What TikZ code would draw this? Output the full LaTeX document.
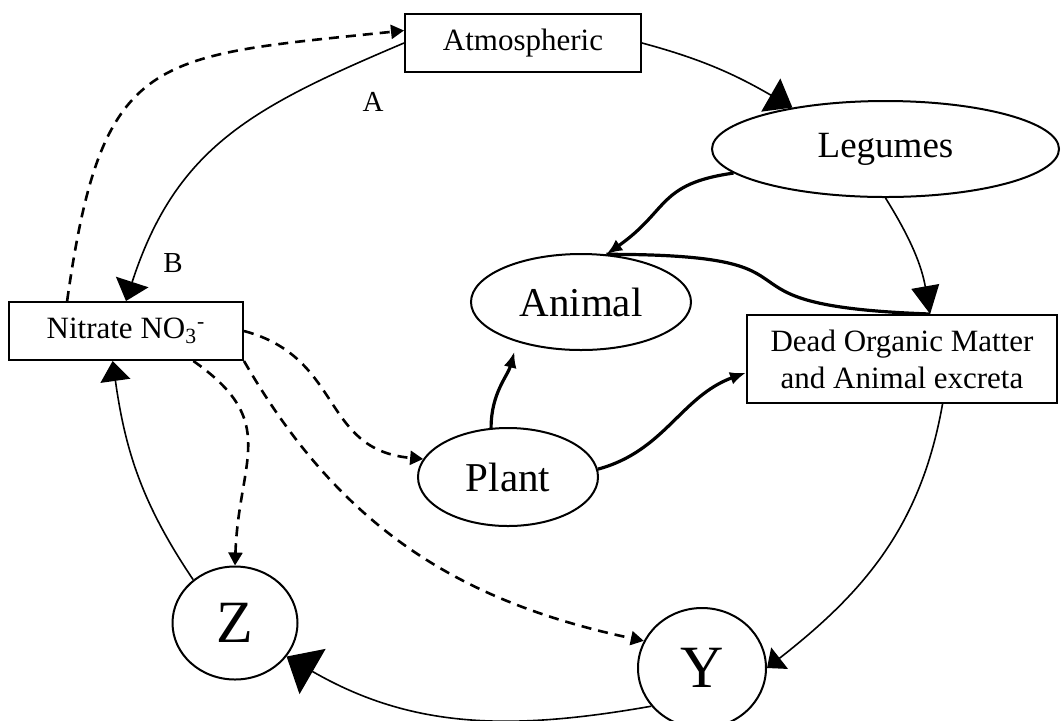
\documentclass[tikz,border=0pt]{standalone}
\usepackage{fontspec}
\setmainfont{Liberation Serif}
\usepackage{tikz}
\usetikzlibrary{arrows.meta,shapes.geometric}

\begin{document}
\begin{tikzpicture}[x=0.5pt,y=-0.5pt,
  every node/.style={font=\fontsize{15.5}{18.5}\selectfont, inner sep=0pt},
  box/.style={draw, rectangle, line width=1pt, align=center},
  oval/.style={draw, ellipse, line width=1pt},
  loopline/.style={line width=0.8pt},
  feed/.style={line width=1.6pt, -{Latex[length=8pt,width=6.5pt]}},
  leak/.style={line width=1.3pt, dash pattern=on 5pt off 3.5pt, -{Triangle[length=6.5pt,width=7pt]}}]
\useasboundingbox (0,0) rectangle (1061,720);
\node[box, minimum width=118pt, minimum height=29pt] (atm) at (523,43) {Atmospheric};
\node[oval, minimum width=173.5pt, minimum height=48pt, font=\fontsize{18.5}{22}\selectfont] (leg) at (885.5,149) {Legumes};
\node[oval, minimum width=110pt, minimum height=48pt, font=\fontsize{20.5}{24}\selectfont] (ani) at (581,302) {Animal};
\node[box, minimum width=117pt, minimum height=29pt] (nit) at (126,331) {Nitrate NO\textsubscript{3}\textsuperscript{-}};
\node[box, minimum width=155pt, minimum height=44pt] (dead) at (902,359) {Dead Organic Matter\\and Animal excreta};
\node[oval, minimum width=90pt, minimum height=49pt, font=\fontsize{20.5}{24}\selectfont] (pla) at (508,477) {Plant};
\node[oval, minimum width=62.5pt, minimum height=56.5pt, font=\fontsize{30}{36}\selectfont] (zz) at (235,623) {Z};
\node[oval, minimum width=64pt, minimum height=60pt, font=\fontsize{30}{36}\selectfont] (yy) at (702,668) {Y};
\node[font=\fontsize{14.5}{17}\selectfont] (lbA) at (373,102) {A};
\node[font=\fontsize{14.5}{17}\selectfont] (lbB) at (173,263) {B};

\draw[loopline, -{Triangle[length=10pt,width=17pt]}] (atm.west) to[out=203,in=72,looseness=1.1] (nit.north);
\draw[leak] (nit.153) to[out=82,in=186,looseness=1.5] (atm.174);
\draw[loopline, -{Triangle[length=12.5pt,width=19pt]}] (atm.east) to[out=-15,in=150] (leg.156);
\draw[loopline, -{Triangle[length=14pt,width=14pt]}] (leg.south) to[out=-58,in=100] (dead.58);
\draw[loopline, -{Triangle[length=8pt,width=13.5pt]}] (dead.-48) to[out=-100,in=38] (yy.east);
\draw[loopline, -{Triangle[length=15pt,width=26pt]}] (yy.217) to[out=190,in=-30] (zz.-33);
\draw[loopline, -{Triangle[length=10pt,width=15pt]}] (zz.134) to[out=124,in=-82] (nit.246);

\draw[leak] (nit.-24) to[out=-35,in=88,looseness=1.3] (zz.north);
\draw[leak] (nit.east) to[out=-15,in=175,looseness=1.2] (pla.168);
\draw[leak] (nit.south east) to[out=-60,in=168] (yy.155);

\draw[feed] (leg.189) to[out=188,in=35,looseness=1.3] (ani.62);
\draw[line width=1.6pt] (dead.58) to[out=178,in=0,looseness=1.9] (ani.62);
\draw[feed, shorten >=5pt] (pla.109) to[out=90,in=-105] (ani.212);
\draw[feed] (pla.5) to[out=15,in=200] (dead.185);
\end{tikzpicture}
\end{document}
